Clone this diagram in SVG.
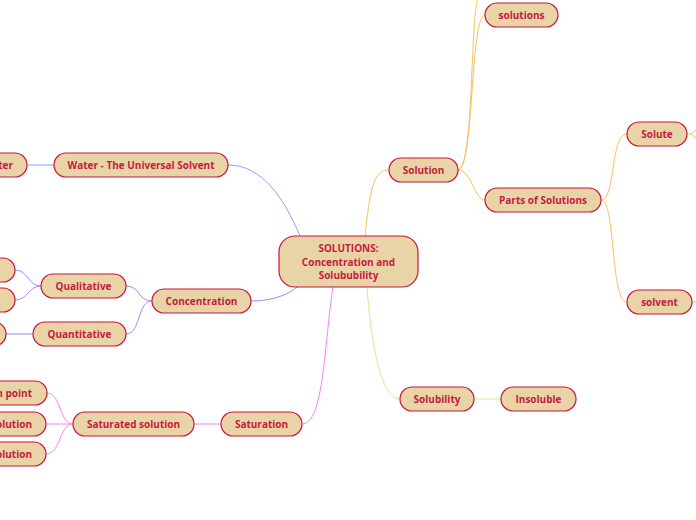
<svg xmlns="http://www.w3.org/2000/svg" width="696" height="520" viewBox="0 0 696 520">
<style>
.n rect{fill:#e9d4a8;stroke:#c8163c;stroke-width:1.2}
.n text{font-family:"Open Sans","Noto Sans",sans-serif;font-weight:bold;font-size:10px;fill:#c41c3c;text-anchor:middle;dominant-baseline:central}
.n text.e{text-anchor:end}
#connectors path{fill:none;stroke-width:1}
.b{stroke:#86a4fa}.p{stroke:#a884f4}.m{stroke:#f484f4}.o{stroke:#fbbf5c}.g{stroke:#bff58a}
</style>
<rect width="696" height="520" fill="#fff"/>
<g id="connectors">
<path class="b" d="M228,165 C262,165 284,198 300,236"/>
<path class="b" d="M54,165 L27,165"/>
<path class="o" d="M365,236 C370,190 373,170 389,170"/>
<path class="o" d="M458,170 C472,170 474,200 485,200"/>
<path class="o" d="M458,170 C474,170 470,15 485,15"/>
<path class="o" d="M458,170 C474,168 470,20 478,-2"/>
<path class="o" d="M601,200 C616,200 610,134 627,134"/>
<path class="o" d="M601,200 C616,200 610,302 627,302"/>
<path class="o" d="M687,134 L691,134 L697,129 M691,134 L697,139"/>
<path class="o" d="M692,302 L697,302"/>
<path class="p" d="M297,287 C284,298 266,301 251,301"/>
<path class="p" d="M152,301 C137,301 141,286 126,286"/>
<path class="p" d="M152,301 C137,301 141,334 126,334"/>
<path class="p" d="M41,286 C28,286 28,270 15,270"/>
<path class="p" d="M41,286 C28,286 28,300 15,300"/>
<path class="p" d="M33,334 L6,334"/>
<path class="m" d="M333,287 C324,345 324,424 302,424"/>
<path class="m" d="M221,424 L194,424"/>
<path class="m" d="M73,424 C59,424 61,393 47,393"/>
<path class="m" d="M73,424 L46,424"/>
<path class="m" d="M73,424 C59,424 61,454 46,454"/>
<path class="g" d="M367,287 C371,340 380,399 400,399"/>
<path class="g" d="M474,399 L501,399"/>
</g>
<g id="center" class="n"><rect x="279" y="236" width="139" height="51" rx="16"/>
<text x="348.5" y="248">SOLUTIONS:</text><text x="348.5" y="261.5">Concentration and</text><text x="348.5" y="275">Solububility</text></g>
<g id="solution" class="n"><rect x="389" y="158" width="69" height="24" rx="12"/><text x="423.5" y="170">Solution</text></g>
<g id="solutions" class="n"><rect x="485" y="3" width="73" height="24" rx="12"/><text x="521.5" y="15">solutions</text></g>
<g id="parts" class="n"><rect x="485" y="188" width="116" height="24" rx="12"/><text x="543" y="200">Parts of Solutions</text></g>
<g id="solute" class="n"><rect x="627" y="122" width="60" height="24" rx="12"/><text x="657" y="134">Solute</text></g>
<g id="solvent" class="n"><rect x="627" y="290" width="65" height="24" rx="12"/><text x="659.5" y="302">solvent</text></g>
<g id="solubility" class="n"><rect x="400" y="387" width="74" height="24" rx="12"/><text x="437" y="399">Solubility</text></g>
<g id="insoluble" class="n"><rect x="501" y="387" width="75" height="24" rx="12"/><text x="538.5" y="399">Insoluble</text></g>
<g id="water" class="n"><rect x="54" y="153" width="174" height="24" rx="12"/><text x="141" y="165">Water - The Universal Solvent</text></g>
<g id="water-left" class="n"><rect x="-60" y="153" width="87" height="24" rx="12"/><text class="e" x="13" y="165">ter</text></g>
<g id="concentration" class="n"><rect x="152" y="289" width="99" height="24" rx="12"/><text x="201.5" y="301">Concentration</text></g>
<g id="qualitative" class="n"><rect x="41" y="274" width="85" height="24" rx="12"/><text x="83.5" y="286">Qualitative</text></g>
<g id="quantitative" class="n"><rect x="33" y="322" width="93" height="24" rx="12"/><text x="79.5" y="334">Quantitative</text></g>
<g id="qual-a" class="n"><rect x="-60" y="258" width="75" height="24" rx="12"/></g>
<g id="qual-b" class="n"><rect x="-60" y="288" width="75" height="24" rx="12"/></g>
<g id="quant-a" class="n"><rect x="-60" y="322" width="66" height="24" rx="12"/></g>
<g id="saturation" class="n"><rect x="221" y="412" width="81" height="24" rx="12"/><text x="261.5" y="424">Saturation</text></g>
<g id="saturated" class="n"><rect x="73" y="412" width="121" height="24" rx="12"/><text x="133.5" y="424">Saturated solution</text></g>
<g id="sat-a" class="n"><rect x="-60" y="381" width="107" height="24" rx="12"/><text class="e" x="32" y="393">n point</text></g>
<g id="sat-b" class="n"><rect x="-60" y="412" width="106" height="24" rx="12"/><text class="e" x="32" y="424">olution</text></g>
<g id="sat-c" class="n"><rect x="-60" y="442" width="106" height="24" rx="12"/><text class="e" x="32" y="454">olution</text></g>
</svg>
